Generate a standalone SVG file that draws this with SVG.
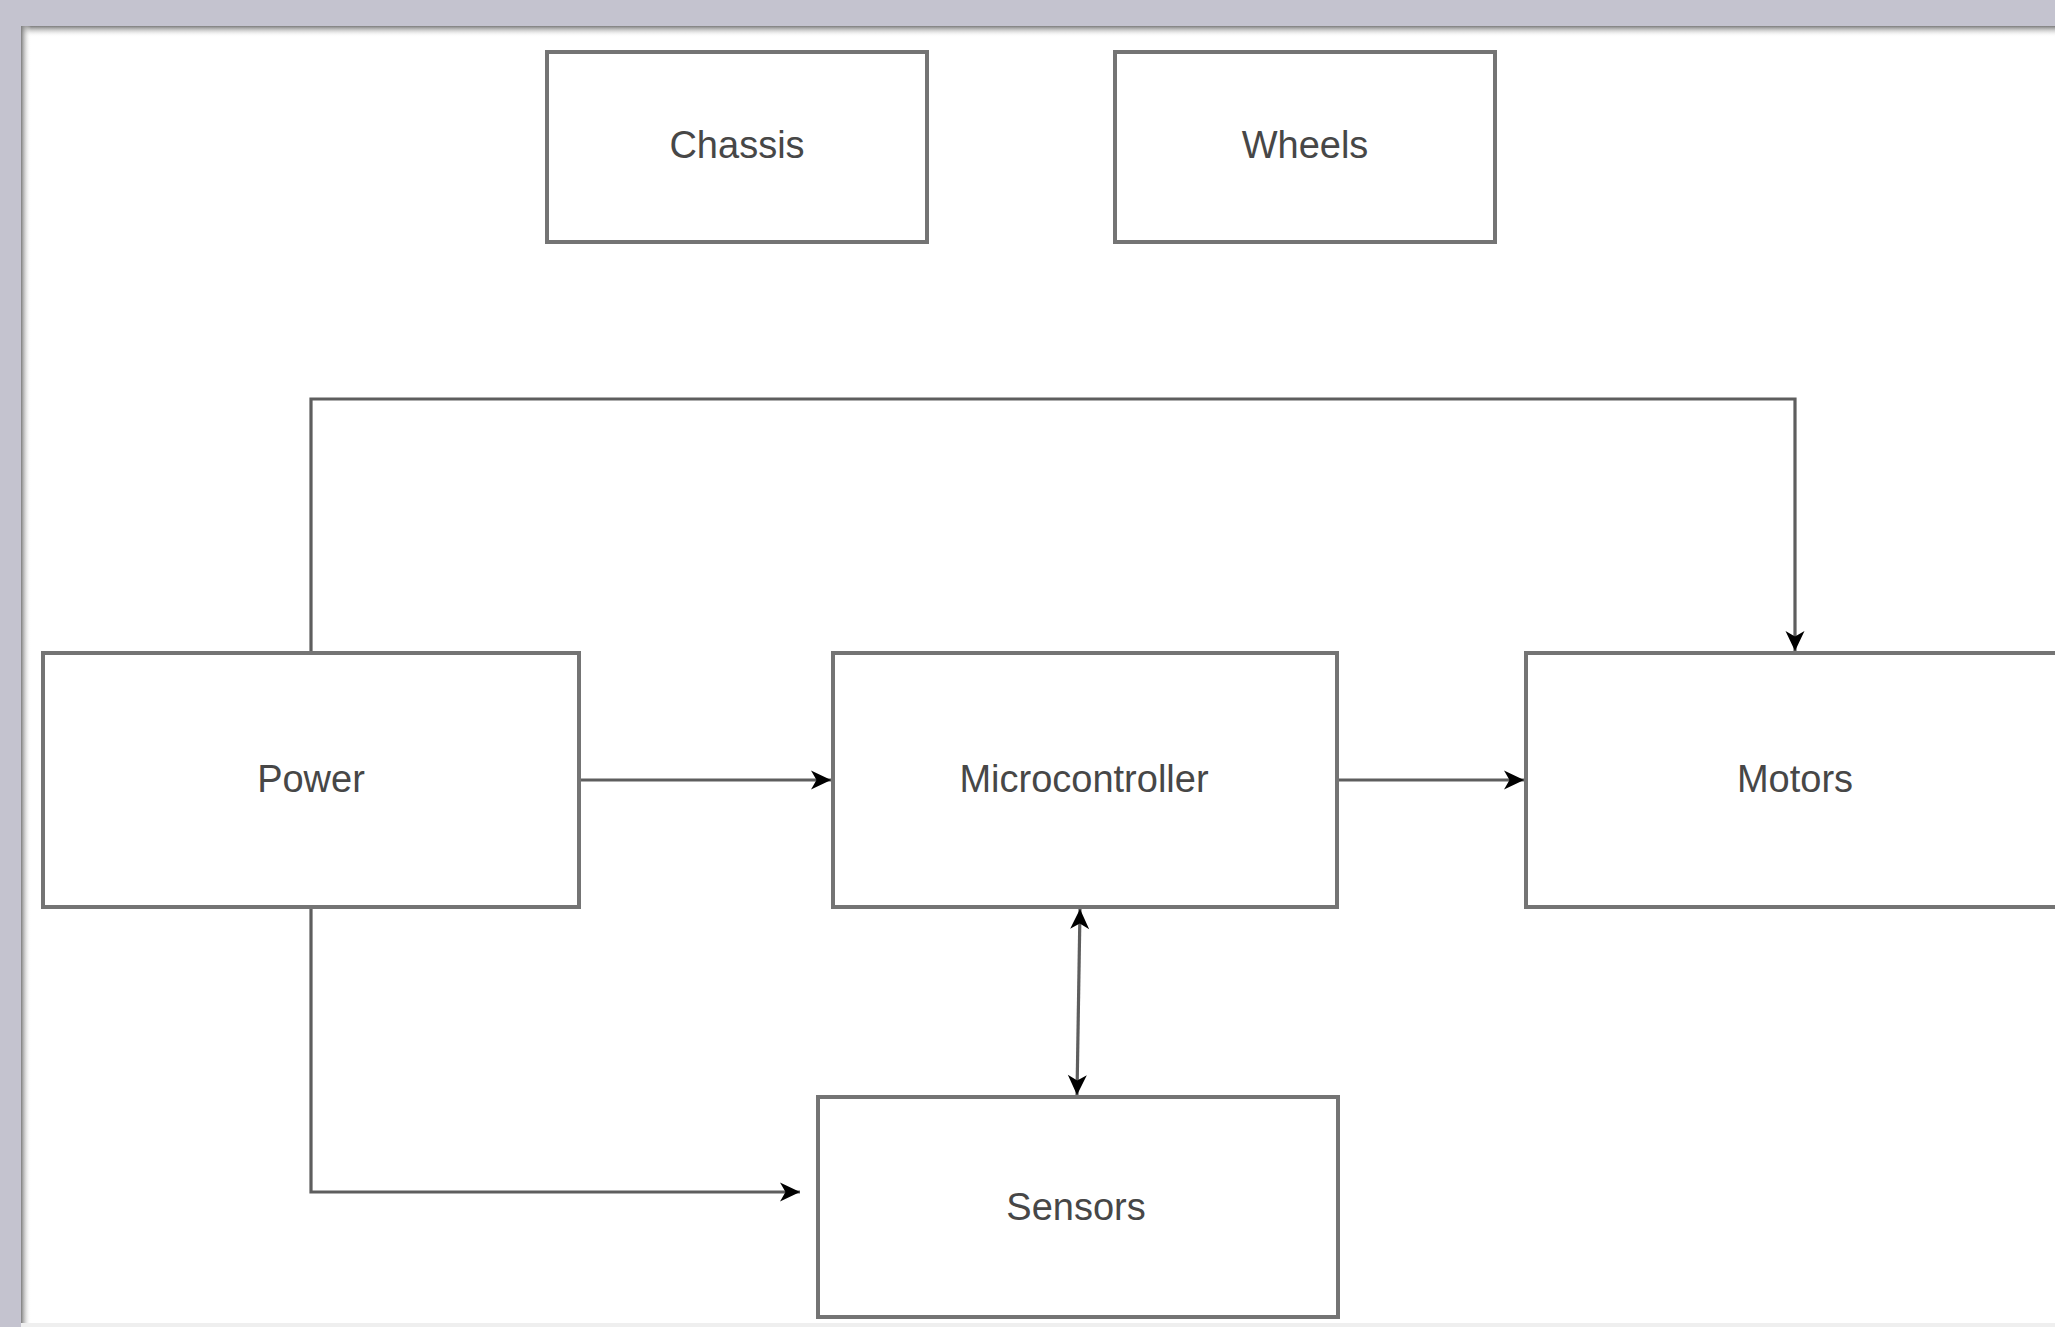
<svg xmlns="http://www.w3.org/2000/svg" width="2055" height="1327" viewBox="0 0 2055 1327">
  <defs>
    <style>
      .box { fill: #ffffff; stroke: #747474; stroke-width: 4; }
      .label { font-family: "Liberation Sans", Arial, sans-serif; font-size: 38px; fill: #474747; text-anchor: middle; }
      .conn { fill: none; stroke: #5e5e5e; stroke-width: 3.2; }
    </style>
    <marker id="arrow" markerUnits="userSpaceOnUse" markerWidth="26" markerHeight="24" refX="21" refY="11" orient="auto-start-reverse" viewBox="0 0 26 24">
      <path d="M21,11 L1,1.5 L6.5,11 L1,20.5 Z" fill="#000000"/>
    </marker>
    <linearGradient id="shTop" x1="0" y1="0" x2="0" y2="1">
      <stop offset="0" stop-color="#7c7c7c"/>
      <stop offset="1" stop-color="#ffffff" stop-opacity="0"/>
    </linearGradient>
    <linearGradient id="shLeft" x1="0" y1="0" x2="1" y2="0">
      <stop offset="0" stop-color="#7c7c7c"/>
      <stop offset="1" stop-color="#ffffff" stop-opacity="0"/>
    </linearGradient>
  </defs>

  <!-- canvas background and page -->
  <rect x="0" y="0" width="2055" height="1327" fill="#c4c3cf"/>
  <rect x="21" y="26" width="2034" height="1297" fill="#ffffff"/>
  <rect x="21" y="26" width="2034" height="11" fill="url(#shTop)"/>
  <rect x="21" y="26" width="10" height="1297" fill="url(#shLeft)"/>
  <rect x="21" y="1323" width="2034" height="4" fill="#efefef"/>

  <g id="connectors">
    <path class="conn" d="M311,653 L311,399 L1795,399 L1795,651" marker-end="url(#arrow)"/>
    <path class="conn" d="M579,780 L831,780" marker-end="url(#arrow)"/>
    <path class="conn" d="M1337,780 L1524,780" marker-end="url(#arrow)"/>
    <path class="conn" d="M1080,909 L1077,1095" marker-start="url(#arrow)" marker-end="url(#arrow)"/>
    <path class="conn" d="M311,907 L311,1192 L800,1192" marker-end="url(#arrow)"/>
  </g>

  <g id="chassis">
    <rect class="box" x="547" y="52" width="380" height="190"/>
    <text class="label" x="737" y="158">Chassis</text>
  </g>
  <g id="wheels">
    <rect class="box" x="1115" y="52" width="380" height="190"/>
    <text class="label" x="1305" y="158">Wheels</text>
  </g>
  <g id="power">
    <rect class="box" x="43" y="653" width="536" height="254"/>
    <text class="label" x="311" y="792">Power</text>
  </g>
  <g id="microcontroller">
    <rect class="box" x="833" y="653" width="504" height="254"/>
    <text class="label" x="1084" y="792">Microcontroller</text>
  </g>
  <g id="motors">
    <rect class="box" x="1526" y="653" width="538" height="254"/>
    <text class="label" x="1795" y="792">Motors</text>
  </g>
  <g id="sensors">
    <rect class="box" x="818" y="1097" width="520" height="220"/>
    <text class="label" x="1076" y="1220">Sensors</text>
  </g>
</svg>
